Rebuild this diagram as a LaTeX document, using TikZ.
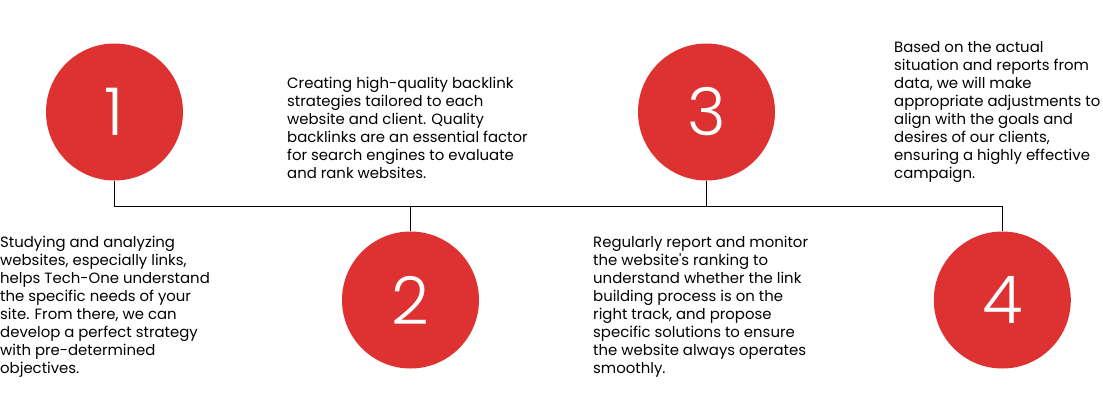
\documentclass[tikz,border=0pt]{standalone}
\usepackage{fontspec}
\setmainfont{Poppins}
\newfontfamily\digitfont{Poppins Light}
\definecolor{stepred}{RGB}{221,49,50}
\tikzset{
  x=1pt, y=-1pt,
  numdot/.style={circle, fill=stepred, minimum size=137pt, inner sep=0pt, text=white,
    font=\digitfont\fontsize{66}{66}\selectfont},
  desc/.style={anchor=base west, inner sep=0pt},
  bus/.style={line width=1pt, draw=black}
}
\newcommand{\desctext}[2]{\parbox[t]{#1}{\raggedright\fontsize{14.9}{18}\selectfont #2}}
\begin{document}
\begin{tikzpicture}
\useasboundingbox (0,0) rectangle (1103,408);
\node[numdot] (c1) at (114.5,112) {\raisebox{-2pt}{1}};
\node[numdot] (c2) at (410.5,300) {\raisebox{-2pt}{2}};
\node[numdot] (c3) at (706.5,112) {\raisebox{-2pt}{3}};
\node[numdot] (c4) at (1002.3,300) {\raisebox{-2pt}{4}};
\coordinate (busy) at (0,206);
\draw[bus] (c1.south) |- (c4.north |- busy) -- (c4.north);
\draw[bus] (c2.north) -- (c2.north |- busy);
\draw[bus] (c3.south) -- (c3.south |- busy);
\node[desc] (t1) at (0,247) {\desctext{260pt}{Studying and analyzing\\websites, especially links,\\helps Tech-One understand\\the specific needs of your\\site. From there, we can\\develop a perfect strategy\\with pre-determined\\objectives.}};
\node[desc] (t2) at (287,88) {\desctext{280pt}{Creating high-quality backlink\\strategies tailored to each\\website and client. Quality\\backlinks are an essential factor\\for search engines to evaluate\\and rank websites.}};
\node[desc] (t3) at (593,247) {\desctext{280pt}{Regularly report and monitor\\the website\textquotesingle s ranking to\\understand whether the link\\building process is on the\\right track, and propose\\specific solutions to ensure\\the website always operates\\smoothly.}};
\node[desc] (t4) at (894,52) {\desctext{260pt}{Based on the actual\\situation and reports from\\data, we will make\\appropriate adjustments to\\align with the goals and\\desires of our clients,\\ensuring a highly effective\\campaign.}};
\end{tikzpicture}
\end{document}
